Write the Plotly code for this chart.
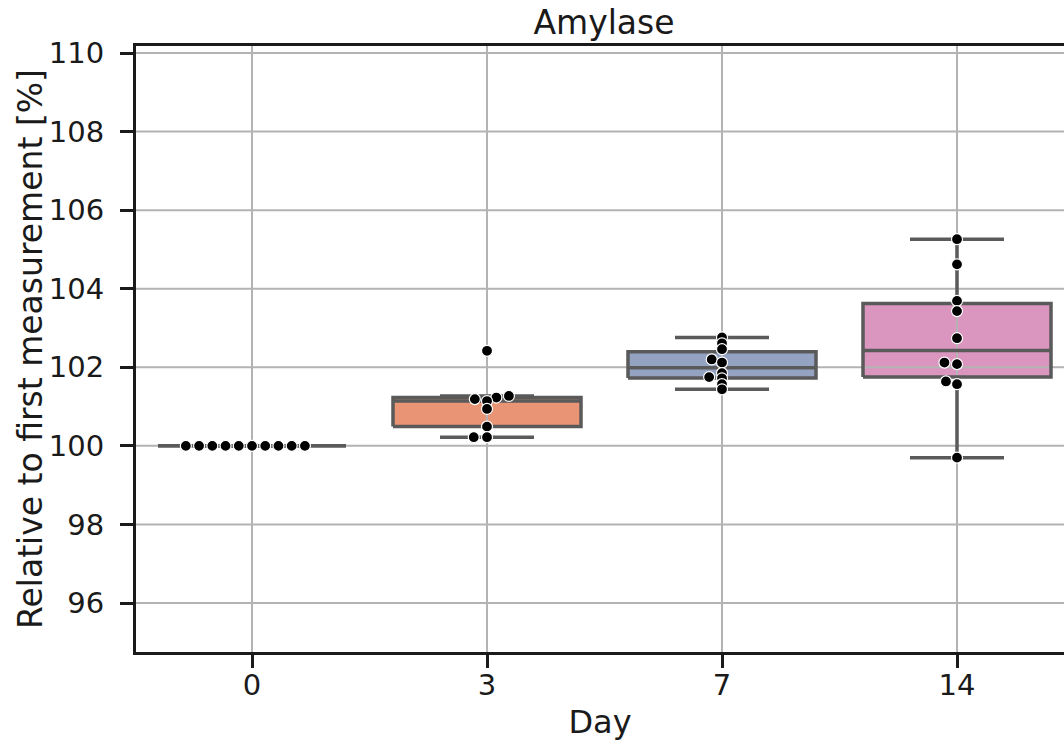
import numpy as np
import plotly.graph_objects as go

# ---------------- data ----------------
DAYS = ["0", "3", "7", "14"]
DAY0 = [100.0, 100.0, 100.0, 100.0, 100.0, 100.0, 100.0, 100.0, 100.0, 100.0]
DAY3 = [102.42, 101.27, 101.23, 101.19, 101.14, 100.94, 100.49, 100.22, 100.22]
DAY7 = [102.76, 102.61, 102.46, 102.20, 102.12, 101.85, 101.75, 101.72, 101.57, 101.44]
DAY14 = [105.26, 104.62, 103.69, 103.43, 102.74, 102.12, 102.08, 101.64, 101.57, 99.70]
VALUES = [DAY0, DAY3, DAY7, DAY14]
BOX_COLORS = ["#71b7a1", "#e99575", "#95a3c3", "#db96c0"]
Y_TICKS = [96, 98, 100, 102, 104, 106, 108, 110]
TITLE = "Amylase"
X_TITLE = "Day"
Y_TITLE = "Relative to first measurement [%]"

# ---------------- layout constants ----------------
W, H = 1064, 747
ML, MR, MT, MB = 136, 0, 46, 95
PLOT_W = W - ML - MR
PLOT_H = H - MT - MB
PX_PER_CAT = 235.0
CAT0_PX = 252.0
X_RANGE = [-(CAT0_PX - ML) / PX_PER_CAT, -(CAT0_PX - ML) / PX_PER_CAT + PLOT_W / PX_PER_CAT]
PX_PER_UNIT = 550.0 / 14.0          # 110 at y=53, 96 at y=603
Y_RANGE = [96 - (H - MB - 603) / PX_PER_UNIT, 110 + (53 - MT) / PX_PER_UNIT]
FONT = "DejaVu Sans"
TXT = "#1a1a1a"
EDGE = "#5a5a5a"
GRID = "#b3b3b3"
BOX_W = 0.8
CAP_W = 0.4
DOT_D = 12.6  # swarm collision diameter (px)


def box_stats(vals):
    a = np.asarray(vals, dtype=float)
    q1, med, q3 = np.percentile(a, [25, 50, 75])
    iqr = q3 - q1
    lo = a[a >= q1 - 1.5 * iqr].min()
    hi = a[a <= q3 + 1.5 * iqr].max()
    return q1, med, q3, lo, hi


def swarm_offsets(vals, d, ppu):
    """seaborn-style beeswarm; returns x offsets in pixels."""
    y = np.asarray(vals, dtype=float) * ppu
    sorter = np.argsort(y, kind="stable")
    swarm = []
    for idx in sorter:
        yi = y[idx]
        if not swarm:
            swarm.append((0.0, yi))
            continue
        neighbors = []
        for xj, yj in reversed(swarm):
            if yi - yj < d:
                neighbors.append((xj, yj))
            else:
                break
        cands = [0.0]
        left_first = True
        for xj, yj in neighbors:
            dy = yi - yj
            dx = np.sqrt(max(d * d - dy * dy, 0.0)) * 1.05
            cands += [xj - dx, xj + dx] if left_first else [xj + dx, xj - dx]
            left_first = not left_first
        order = np.argsort(np.abs(cands), kind="stable")
        chosen = cands[order[0]]
        if neighbors:
            for k in order:
                c = cands[k]
                if all((xj - c) ** 2 + (yj - yi) ** 2 >= d * d for xj, yj in neighbors):
                    chosen = c
                    break
        swarm.append((chosen, yi))
    offs = np.zeros(len(y))
    for (xo, _), idx in zip(swarm, sorter):
        offs[idx] = xo
    return offs


# swarm is laid out at the data's autoscaled y-range (before the limits were widened)
all_vals = np.concatenate([np.asarray(v, float) for v in VALUES])
span = all_vals.max() - all_vals.min()
SWARM_PPU = PLOT_H / (span * 1.1)

fig = go.Figure()

# box fills
for i, vals in enumerate(VALUES):
    q1, med, q3, lo, hi = box_stats(vals)
    fig.add_trace(go.Box(
        x=[i], q1=[q1], median=[med], q3=[q3], lowerfence=[q1], upperfence=[q3],
        width=BOX_W, whiskerwidth=0, fillcolor=BOX_COLORS[i],
        line=dict(color="rgba(0,0,0,0)", width=0),
        boxpoints=False, showlegend=False, hoverinfo="skip",
    ))

# grid lines (above box fills, below outlines, like matplotlib)
gx, gy = [], []
for i in range(len(DAYS)):
    gx += [i, i, None]
    gy += [Y_RANGE[0], Y_RANGE[1], None]
for t in Y_TICKS:
    gx += [X_RANGE[0], X_RANGE[1], None]
    gy += [t, t, None]
fig.add_trace(go.Scatter(x=gx, y=gy, mode="lines", line=dict(color=GRID, width=2),
                         showlegend=False, hoverinfo="skip"))

# box outlines, medians, whiskers and caps
for i, vals in enumerate(VALUES):
    q1, med, q3, lo, hi = box_stats(vals)
    x0, x1 = i - BOX_W / 2, i + BOX_W / 2
    c0, c1 = i - CAP_W / 2, i + CAP_W / 2
    ox = [x0, x1, x1, x0, x0, None, x0, x1, None, i, i, None, i, i, None,
          c0, c1, None, c0, c1]
    oy = [q1, q1, q3, q3, q1, None, med, med, None, q1, lo, None, q3, hi, None,
          lo, lo, None, hi, hi]
    fig.add_trace(go.Scatter(x=ox, y=oy, mode="lines", line=dict(color=EDGE, width=3.5),
                             showlegend=False, hoverinfo="skip"))

# swarm points
for i, vals in enumerate(VALUES):
    offs = swarm_offsets(vals, DOT_D, SWARM_PPU)
    xs = [i + o / PX_PER_CAT for o in offs]
    fig.add_trace(go.Scatter(
        x=xs, y=vals, mode="markers",
        marker=dict(size=11, color="black", line=dict(color="white", width=1.2)),
        showlegend=False, hoverinfo="skip", cliponaxis=False,
    ))

axis_common = dict(
    showgrid=False, zeroline=False, showline=True, linecolor=TXT, linewidth=3,
    ticks="outside", ticklen=13, tickwidth=2.5, tickcolor=TXT,
    tickfont=dict(family=FONT, size=29, color=TXT),
)

fig.update_layout(
    width=W, height=H,
    margin=dict(l=ML, r=MR, t=MT, b=MB, pad=0),
    paper_bgcolor="white", plot_bgcolor="white",
    font=dict(family=FONT, color=TXT),
    boxmode="overlay",
    title=dict(text=TITLE, font=dict(family=FONT, size=33, color=TXT),
               x=(604 - ML) / PLOT_W, xanchor="center", xref="paper",
               y=1, yref="paper", yanchor="bottom", pad=dict(b=12)),
    xaxis=dict(range=X_RANGE, tickmode="array", tickvals=list(range(len(DAYS))),
               ticktext=DAYS, mirror=True, ticklabelstandoff=-8,
               title=dict(text=X_TITLE, font=dict(family=FONT, size=32, color=TXT), standoff=10),
               **axis_common),
    yaxis=dict(range=Y_RANGE, tickmode="array", tickvals=Y_TICKS,
               ticktext=[str(t) for t in Y_TICKS], mirror=False, ticklabelstandoff=10,
               **axis_common),
    annotations=[dict(text=Y_TITLE, textangle=-90, showarrow=False,
                      font=dict(family=FONT, size=33, color=TXT),
                      xref="paper", x=0, xshift=-(ML - 30), xanchor="center",
                      yref="paper", y=0.5, yanchor="middle")],
)

fig.write_html("out.html", config={"displayModeBar": False},
               post_script="document.body.style.margin='0';")
